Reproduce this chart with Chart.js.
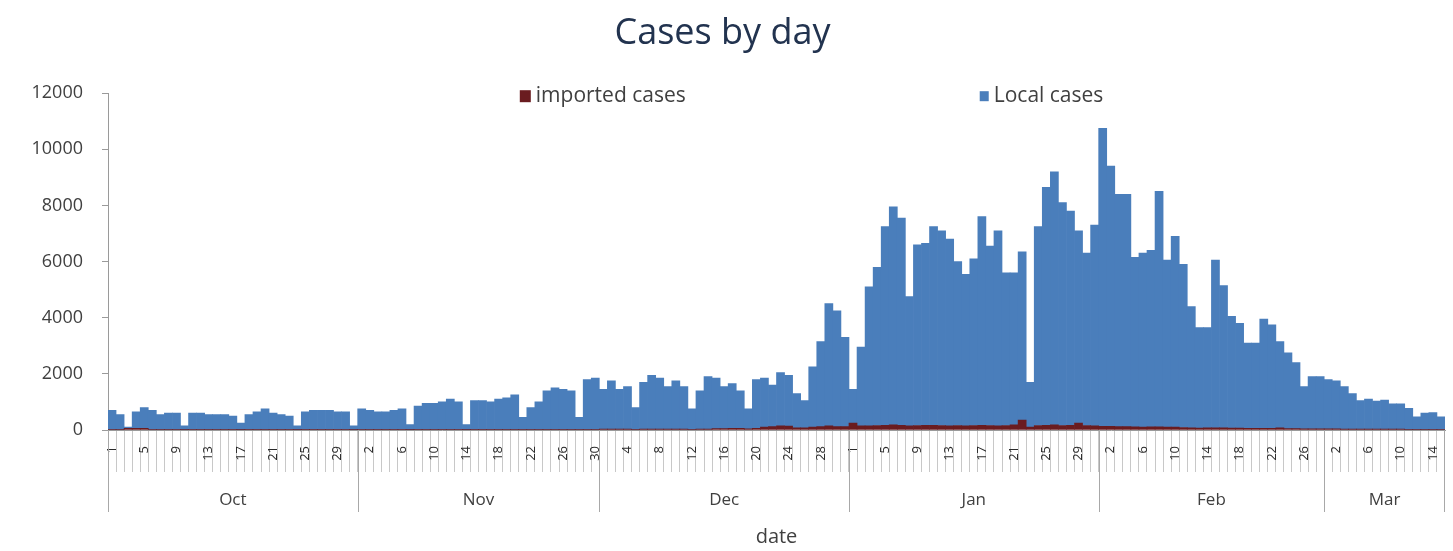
<!DOCTYPE html>
<html>
<head>
<meta charset="utf-8">
<script src="https://cdn.jsdelivr.net/npm/chart.js@4.4.0/dist/chart.umd.min.js"></script>
<style>
  html, body { margin: 0; padding: 0; background: #fff; }
  #wrap { width: 1453px; height: 551px; }
</style>
</head>
<body>
<div id="wrap"><canvas id="casesChart" width="1453" height="551"></canvas></div>
<script>
const FONT = '"Open Sans", "DejaVu Sans", sans-serif'

const months = ['Oct', 'Nov', 'Dec', 'Jan', 'Feb', 'Mar']
const monthDays = [31, 30, 31, 31, 28, 15]
const yTicks = [0, 2000, 4000, 6000, 8000, 10000, 12000]

// local cases per day
const localOct = [680, 530, 40, 590, 740, 680, 530, 580, 580, 140, 580, 580, 530, 530, 530, 480, 240, 530, 630, 730, 580, 530, 480, 140, 630, 680, 680, 680, 630, 630, 140]
const localNov = [730, 680, 630, 630, 680, 730, 180, 830, 930, 930, 980, 1080, 980, 180, 1030, 1030, 980, 1080, 1130, 1230, 430, 780, 980, 1380, 1480, 1430, 1380, 430, 1780, 1830]
const localDec = [1420, 1720, 1420, 1520, 780, 1670, 1920, 1820, 1520, 1720, 1520, 730, 1370, 1870, 1800, 1500, 1590, 1340, 710, 1740, 1750, 1480, 1900, 1810, 1220, 970, 2150, 3030, 4350, 4130, 3180]
const localJan = [1200, 2800, 4950, 5640, 7080, 7770, 7380, 4600, 6440, 6480, 7080, 6940, 6650, 5840, 5400, 5940, 7430, 6390, 6950, 5440, 5420, 6000, 1600, 7090, 8480, 9020, 7940, 7630, 6850, 6140, 7150]
const localFeb = [10620, 9270, 8280, 8280, 6040, 6200, 6290, 8390, 5950, 6800, 5810, 4320, 3580, 3570, 5970, 5070, 3980, 3730, 3040, 3040, 3890, 3690, 3070, 2700, 2350, 1510, 1860, 1860]
const localMar = [1760, 1710, 1520, 1270, 1020, 1070, 1000, 1040, 900, 900, 750, 450, 580, 600, 450]

// imported cases per day
const importedOct = [20, 20, 60, 60, 60, 20, 20, 20, 20, 10, 20, 20, 20, 20, 20, 20, 10, 20, 20, 20, 20, 20, 20, 10, 20, 20, 20, 20, 20, 20, 10]
const importedNov = [20, 20, 20, 20, 20, 20, 10, 20, 20, 20, 20, 20, 20, 10, 20, 20, 20, 20, 20, 20, 20, 20, 20, 20, 20, 20, 20, 20, 20, 20]
const importedDec = [30, 30, 30, 30, 20, 30, 30, 30, 30, 30, 30, 20, 30, 30, 50, 50, 60, 60, 40, 60, 100, 120, 150, 140, 80, 80, 100, 120, 150, 120, 120]
const importedJan = [250, 150, 150, 160, 170, 180, 170, 150, 160, 170, 170, 160, 150, 160, 150, 160, 170, 160, 150, 160, 180, 350, 100, 160, 170, 180, 160, 170, 250, 160, 150]
const importedFeb = [130, 130, 120, 120, 110, 100, 110, 110, 100, 100, 90, 80, 70, 80, 80, 80, 70, 70, 60, 60, 60, 60, 80, 50, 50, 40, 40, 40]
const importedMar = [40, 40, 30, 30, 30, 30, 30, 30, 30, 30, 20, 20, 20, 20, 20]

const localCases = [].concat(localOct, localNov, localDec, localJan, localFeb, localMar)
const importedCases = [].concat(importedOct, importedNov, importedDec, importedJan, importedFeb, importedMar)

// day-of-month category labels
const dayLabels = []
monthDays.forEach(n => {
  for (let d = 1; d <= n; d++) dayLabels.push(String(d))
})

const series = [
  { label: 'imported cases', data: importedCases, color: '#6a1c20' },
  { label: 'Local cases', data: localCases, color: '#4a7ebb' }
]

// month group lines and names under the day labels
const monthGroups = {
  id: 'monthGroups',
  afterDraw(chart) {
    const { ctx, chartArea } = chart
    const x = chart.scales.x
    const step = x.getPixelForValue(1) - x.getPixelForValue(0)
    const base = chartArea.bottom
    let start = 0

    ctx.save()
    ctx.strokeStyle = '#a8a8a8'
    ctx.lineWidth = 1
    ctx.font = '17px ' + FONT
    ctx.fillStyle = '#404040'
    ctx.textAlign = 'center'
    ctx.textBaseline = 'middle'

    months.forEach((name, k) => {
      const left = x.getPixelForValue(start) - step / 2
      const right = x.getPixelForValue(start + monthDays[k] - 1) + step / 2
      const lx = Math.round(left) + 0.5
      ctx.beginPath()
      ctx.moveTo(lx, base)
      ctx.lineTo(lx, base + 82)
      ctx.stroke()
      if (k === months.length - 1) {
        const rx = Math.round(right) - 0.5
        ctx.beginPath()
        ctx.moveTo(rx, base)
        ctx.lineTo(rx, base + 82)
        ctx.stroke()
      }
      ctx.fillText(name, (left + right) / 2, base + 70)
      start += monthDays[k]
    })
    ctx.restore()
  }
}

// legend spread across the top of the plot like the original
const spreadLegend = {
  id: 'spreadLegend',
  afterDraw(chart) {
    const { ctx, chartArea } = chart
    const w = chartArea.right - chartArea.left
    const spots = [
      { x: chartArea.left + w * 0.308, box: [11, 12] },
      { x: chartArea.left + w * 0.652, box: [9, 10] }
    ]
    const y = chartArea.top + 3

    ctx.save()
    ctx.font = '21px ' + FONT
    ctx.textBaseline = 'middle'
    ctx.textAlign = 'left'
    series.forEach((s, i) => {
      const spot = spots[i]
      ctx.fillStyle = s.color
      ctx.fillRect(spot.x, y - spot.box[1] / 2, spot.box[0], spot.box[1])
      ctx.fillStyle = '#404040'
      ctx.fillText(s.label, spot.x + spot.box[0] + 5, y)
    })
    ctx.restore()
  }
}

const canvas = document.getElementById('casesChart')

new Chart(canvas, {
  type: 'bar',
  data: {
    labels: dayLabels,
    datasets: series.map(s => ({
      label: s.label,
      data: s.data,
      backgroundColor: s.color,
      borderWidth: 0,
      barPercentage: 1,
      categoryPercentage: 1
    }))
  },
  options: {
    responsive: false,
    animation: false,
    layout: {
      padding: { left: 0, right: 8, top: 0, bottom: 0 }
    },
    scales: {
      x: {
        stacked: true,
        grid: {
          offset: true,
          drawOnChartArea: false,
          drawTicks: true,
          tickLength: 42,
          color: '#c8c8c8'
        },
        border: { color: '#9a9a9a' },
        ticks: {
          autoSkip: false,
          minRotation: 90,
          maxRotation: 90,
          padding: -26,
          color: '#2a2a2a',
          font: { family: FONT, size: 13 },
          callback: (value, index) => (index % 4 === 0 ? dayLabels[index] : '')
        },
        title: {
          display: true,
          text: 'date',
          color: '#404040',
          font: { family: FONT, size: 20 },
          padding: { top: 0, bottom: 2 }
        },
        afterFit: scale => { scale.height = 121 }
      },
      y: {
        stacked: true,
        min: 0,
        max: 12000,
        afterBuildTicks: scale => { scale.ticks = yTicks.map(v => ({ value: v })) },
        grid: {
          drawOnChartArea: false,
          tickLength: 6,
          color: '#9a9a9a'
        },
        border: { color: '#9a9a9a' },
        ticks: {
          padding: 19,
          color: '#404040',
          font: { family: FONT, size: 18 },
          callback: value => String(value)
        },
        afterFit: scale => { scale.width = 108 }
      }
    },
    plugins: {
      legend: { display: false },
      tooltip: { enabled: false },
      title: {
        display: true,
        text: 'Cases by day',
        color: '#22334f',
        font: { family: FONT, size: 36, weight: 'normal' },
        padding: { top: 12, bottom: 38 }
      }
    }
  },
  plugins: [monthGroups, spreadLegend]
})
</script>
</body>
</html>
